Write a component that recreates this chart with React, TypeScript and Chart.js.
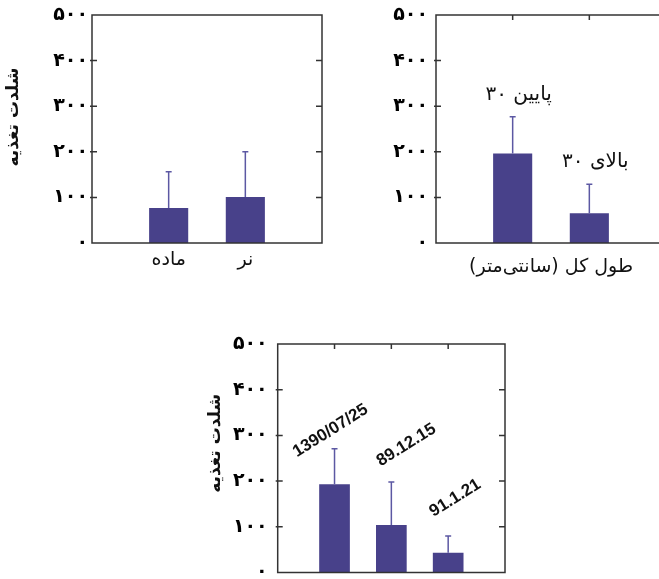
import React, { useEffect, useRef } from 'react';
import { Chart, registerables } from 'chart.js';

Chart.register(...registerables);

// ---- data ----
const yTickValues = [0, 100, 200, 300, 400, 500];
const yTickLabels = ['۰', '۱۰۰', '۲۰۰', '۳۰۰', '۴۰۰', '۵۰۰'];
const yAxisTitle = 'شلدت تغذیه';

const sexCategories = ['ماده', 'نر'];
const sexMean = [77, 101];
const sexSD = [79, 99];

const lengthCategories = ['پایین ۳۰', 'بالای ۳۰'];
const lengthMean = [196, 65];
const lengthSD = [81, 64];
const lengthAxisTitle = 'طول کل (سانتی\u200cمتر)';

const dateCategories = ['1390/07/25', '89.12.15', '91.1.21'];
const dateMean = [193, 104, 43];
const dateSD = [78, 94, 37];
// label centre offsets relative to (bar centre, error-bar top)
const dateLabelShift = [[-4, -18], [15, -37], [7, -38]];

// ---- styles ----
const BAR_COLOR = '#48418a';
const ERR_COLOR = '#5c58a3';
const FRAME_COLOR = '#333333';
const PERSIAN_FONT = '"DejaVu Sans", sans-serif';

type Mode = 'ticks' | 'above' | 'rotated';

type PanelProps = {
  categories: string[];
  mean: number[];
  sd: number[];
  left: number;
  top: number;
  width: number;
  height: number;
  yAxisWidth: number;
  xAxisHeight: number;
  padTop: number;
  padRight: number;
  tickPad: number;
  barFrac: number;
  mode: Mode;
  yTitle?: string;
  yTitleDx?: number;
  yTitleDy?: number;
  xTitle?: string;
  topTicks: boolean;
  shifts?: number[][];
};

function Panel(p: PanelProps) {
  const ref = useRef<HTMLCanvasElement | null>(null);
  useEffect(() => {
    const canvas = ref.current;
    if (!canvas) return;
    const labels = ['', ...p.categories, ''];
    const data = [null, ...p.mean, null];
    const sd = [null, ...p.sd, null];

    const framePlugin = {
      id: 'frame',
      afterDatasetsDraw(chart: any) {
        const { ctx, chartArea: a, scales } = chart;
        const xs = scales.x;
        const ys = scales.y;
        const meta = chart.getDatasetMeta(0);
        ctx.save();
        // error bars (upper only)
        ctx.strokeStyle = ERR_COLOR;
        ctx.lineWidth = 1.5;
        meta.data.forEach((el: any, i: number) => {
          const v = data[i];
          const s = sd[i];
          if (v == null || s == null) return;
          const yTop = ys.getPixelForValue(v + s);
          ctx.beginPath();
          ctx.moveTo(el.x, el.y);
          ctx.lineTo(el.x, yTop);
          ctx.moveTo(el.x - 3, yTop);
          ctx.lineTo(el.x + 3, yTop);
          ctx.stroke();
        });
        // frame
        ctx.strokeStyle = FRAME_COLOR;
        ctx.lineWidth = 1.5;
        ctx.strokeRect(a.left, a.top, a.right - a.left, a.bottom - a.top);
        ctx.beginPath();
        yTickValues.forEach((v) => {
          if (v === 0 || v === 500) return;
          const py = ys.getPixelForValue(v);
          ctx.moveTo(a.left - 2, py);
          ctx.lineTo(a.left + 5, py);
          ctx.moveTo(a.right - 6, py);
          ctx.lineTo(a.right, py);
        });
        if (p.topTicks) {
          for (let i = 1; i <= p.categories.length; i++) {
            const px = xs.getPixelForValue(i);
            ctx.moveTo(px, a.top);
            ctx.lineTo(px, a.top + 5);
          }
        }
        ctx.stroke();

        // y tick labels
        ctx.fillStyle = '#000';
        ctx.font = 'bold 19px ' + PERSIAN_FONT;
        ctx.direction = 'ltr';
        ctx.textAlign = 'right';
        ctx.textBaseline = 'middle';
        yTickValues.forEach((v, i) => {
          ctx.fillText(yTickLabels[i], a.left - p.tickPad, ys.getPixelForValue(v));
        });

        // annotations
        ctx.fillStyle = '#111';
        if (p.mode === 'above') {
          ctx.font = '20px ' + PERSIAN_FONT;
          ctx.direction = 'rtl';
          ctx.textAlign = 'center';
          ctx.textBaseline = 'alphabetic';
          meta.data.forEach((el: any, i: number) => {
            const v = data[i];
            const s = sd[i];
            if (v == null || s == null) return;
            const yTop = ys.getPixelForValue(v + s);
            ctx.fillText(labels[i], el.x + 6, yTop - 17);
          });
        } else if (p.mode === 'rotated') {
          ctx.font = 'bold 17px "Liberation Sans", Arial, sans-serif';
          ctx.direction = 'ltr';
          ctx.textAlign = 'center';
          ctx.textBaseline = 'middle';
          meta.data.forEach((el: any, i: number) => {
            const v = data[i];
            const s = sd[i];
            if (v == null || s == null) return;
            const yTop = ys.getPixelForValue(v + s);
            const sh = (p.shifts && p.shifts[i - 1]) || [0, -20];
            ctx.save();
            ctx.translate(el.x + sh[0], yTop + sh[1]);
            ctx.rotate((-32 * Math.PI) / 180);
            ctx.fillText(labels[i], 0, 0);
            ctx.restore();
          });
        }
        // x title
        if (p.xTitle) {
          ctx.font = '19px ' + PERSIAN_FONT;
          ctx.direction = 'rtl';
          ctx.textAlign = 'center';
          ctx.textBaseline = 'middle';
          ctx.fillText(p.xTitle, (a.left + a.right) / 2, a.bottom + 24);
        }
        // y title
        if (p.yTitle) {
          ctx.save();
          ctx.font = 'bold 17px ' + PERSIAN_FONT;
          ctx.direction = 'rtl';
          ctx.textAlign = 'center';
          ctx.textBaseline = 'middle';
          ctx.translate(a.left + (p.yTitleDx || -80), (a.top + a.bottom) / 2 + (p.yTitleDy || 0));
          ctx.rotate(-Math.PI / 2);
          ctx.fillText(p.yTitle, 0, 0);
          ctx.restore();
        }
        ctx.restore();
      },
    };

    const chart = new Chart(canvas, {
      type: 'bar',
      data: {
        labels,
        datasets: [
          {
            data,
            backgroundColor: BAR_COLOR,
            borderWidth: 0,
            barPercentage: p.barFrac,
            categoryPercentage: 1,
          },
        ],
      },
      options: {
        responsive: false,
        animation: false,
        devicePixelRatio: 1,
        layout: { padding: { top: p.padTop, right: p.padRight, left: 0, bottom: 0 } },
        plugins: { legend: { display: false }, tooltip: { enabled: false } },
        scales: {
          x: {
            type: 'category',
            offset: false,
            grid: { display: false, drawTicks: false },
            border: { display: false },
            ticks: {
              display: p.mode === 'ticks',
              autoSkip: false,
              maxRotation: 0,
              padding: 6,
              color: '#111',
              font: { family: PERSIAN_FONT, size: 19 },
            },
            afterFit: (scale: any) => {
              scale.height = p.xAxisHeight;
            },
          },
          y: {
            min: 0,
            max: 500,
            grid: { display: false, drawTicks: false },
            border: { display: false },
            ticks: { display: false, stepSize: 100, padding: 0 },
            afterFit: (scale: any) => {
              scale.width = p.yAxisWidth;
            },
          },
        },
      },
      plugins: [framePlugin],
    } as any);
    return () => chart.destroy();
  }, []);

  return (
    <canvas
      ref={ref}
      width={p.width}
      height={p.height}
      style={{ position: 'absolute', left: p.left, top: p.top, width: p.width, height: p.height }}
    />
  );
}

export default function App() {
  return (
    <div
      style={{
        position: 'absolute',
        left: 0,
        top: 0,
        width: 659,
        height: 579,
        overflow: 'hidden',
        background: '#fff',
      }}
    >
      <Panel
        categories={sexCategories}
        mean={sexMean}
        sd={sexSD}
        left={0}
        top={0}
        width={340}
        height={290}
        yAxisWidth={92}
        xAxisHeight={47}
        padTop={15}
        padRight={18}
        tickPad={4}
        barFrac={0.51}
        mode="ticks"
        yTitle={yAxisTitle}
        yTitleDx={-78}
        yTitleDy={-12}
        topTicks={false}
      />
      <Panel
        categories={lengthCategories}
        mean={lengthMean}
        sd={lengthSD}
        left={330}
        top={0}
        width={346}
        height={290}
        yAxisWidth={106}
        xAxisHeight={47}
        padTop={15}
        padRight={10}
        tickPad={8}
        barFrac={0.51}
        mode="above"
        xTitle={lengthAxisTitle}
        topTicks={true}
      />
      <Panel
        categories={dateCategories}
        mean={dateMean}
        sd={dateSD}
        left={180}
        top={320}
        width={340}
        height={259}
        yAxisWidth={97.7}
        xAxisHeight={6.5}
        padTop={24}
        padRight={15}
        tickPad={10}
        barFrac={0.54}
        mode="rotated"
        yTitle={yAxisTitle}
        yTitleDx={-62}
        yTitleDy={-15}
        topTicks={true}
        shifts={dateLabelShift}
      />
    </div>
  );
}
